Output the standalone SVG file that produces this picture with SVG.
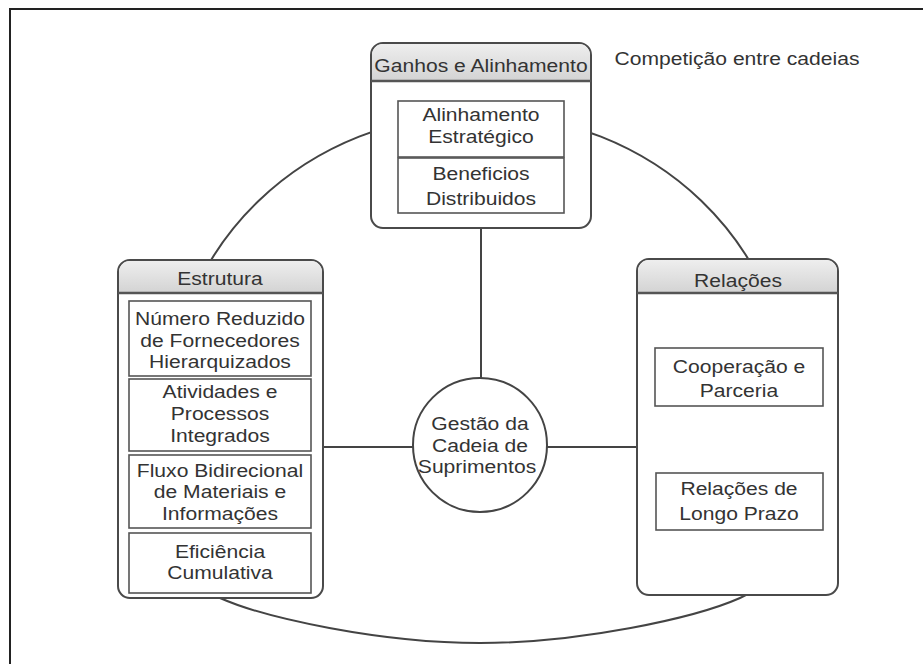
<svg xmlns="http://www.w3.org/2000/svg" width="923" height="664" viewBox="0 0 923 664">
  <defs>
    <linearGradient id="hdr" x1="0" y1="0" x2="0" y2="1">
      <stop offset="0" stop-color="#eeeeee"/>
      <stop offset="1" stop-color="#d3d3d3"/>
    </linearGradient>
    <style>
      .frame { fill: none; stroke: #222; stroke-width: 2; }
      .loop { fill: none; stroke: #444; stroke-width: 2; }
      .panel { fill: #fff; stroke: #4a4a4a; stroke-width: 2; }
      .head { fill: url(#hdr); stroke: none; }
      .divider { stroke: #555; stroke-width: 2.5; }
      .item { fill: #fff; stroke: #555; stroke-width: 1.6; }
      .link { stroke: #444; stroke-width: 2; fill: none; }
      .hub { fill: #fff; stroke: #444; stroke-width: 2; }
      text { font-family: "Liberation Sans", Arial, sans-serif; font-size: 18.5px; fill: #333; text-anchor: middle; }
    </style>
  </defs>

  <rect width="923" height="664" fill="#fff"/>
  <!-- page frame (top and left edges) -->
  <path class="frame" d="M10 664 V9 H923"/>

  <!-- loop running round all three panels -->
  <path class="loop" d="M480 114 C310 114 165 240 165 430 C165 530 175 578 220 598 C265 618 380 643 480 643 C580 643 695 618 740 598 C785 578 795 530 795 430 C795 240 650 114 480 114 Z"/>

  <g id="connectors">
    <line class="link" x1="481" y1="228" x2="481" y2="378"/>
    <line class="link" x1="323" y1="447" x2="413" y2="447"/>
    <line class="link" x1="547" y1="447" x2="637" y2="447"/>
  </g>

  <g id="ganhos">
    <rect class="panel" x="371" y="43" width="220" height="185" rx="12"/>
    <path class="head" d="M372 81 V55 A11 11 0 0 1 383 44 H579 A11 11 0 0 1 590 55 V81 Z"/>
    <line class="divider" x1="371" y1="81" x2="591" y2="81"/>
    <text transform="translate(481 72) scale(1.14 1)">Ganhos e Alinhamento</text>
    <rect class="item" x="398" y="101" width="166" height="56"/>
    <text transform="translate(481 121) scale(1.14 1)">Alinhamento</text>
    <text transform="translate(481 143) scale(1.14 1)">Estratégico</text>
    <rect class="item" x="398" y="158" width="166" height="55"/>
    <text transform="translate(481 180) scale(1.14 1)">Beneficios</text>
    <text transform="translate(481 205) scale(1.14 1)">Distribuidos</text>
  </g>

  <g id="estrutura">
    <rect class="panel" x="118" y="260" width="205" height="338" rx="12"/>
    <path class="head" d="M119 293 V272 A11 11 0 0 1 130 261 H311 A11 11 0 0 1 322 272 V293 Z"/>
    <line class="divider" x1="118" y1="293" x2="323" y2="293"/>
    <text transform="translate(220 285) scale(1.14 1)">Estrutura</text>
    <rect class="item" x="129" y="301" width="182" height="75"/>
    <text transform="translate(220 325) scale(1.14 1)">Número Reduzido</text>
    <text transform="translate(220 347) scale(1.14 1)">de Fornecedores</text>
    <text transform="translate(220 368) scale(1.14 1)">Hierarquizados</text>
    <rect class="item" x="129" y="379" width="182" height="72"/>
    <text transform="translate(220 398) scale(1.14 1)">Atividades e</text>
    <text transform="translate(220 420) scale(1.14 1)">Processos</text>
    <text transform="translate(220 442) scale(1.14 1)">Integrados</text>
    <rect class="item" x="129" y="455" width="182" height="73"/>
    <text transform="translate(220 477) scale(1.14 1)">Fluxo Bidirecional</text>
    <text transform="translate(220 498) scale(1.14 1)">de Materiais e</text>
    <text transform="translate(220 520) scale(1.14 1)">Informações</text>
    <rect class="item" x="129" y="533" width="182" height="60"/>
    <text transform="translate(220 558) scale(1.14 1)">Eficiência</text>
    <text transform="translate(220 579) scale(1.14 1)">Cumulativa</text>
  </g>

  <g id="relacoes">
    <rect class="panel" x="637" y="259" width="201" height="336" rx="12"/>
    <path class="head" d="M638 293 V271 A11 11 0 0 1 649 260 H826 A11 11 0 0 1 837 271 V293 Z"/>
    <line class="divider" x1="637" y1="293" x2="838" y2="293"/>
    <text transform="translate(738 287) scale(1.14 1)">Relações</text>
    <rect class="item" x="655" y="348" width="168" height="58"/>
    <text transform="translate(739 373) scale(1.14 1)">Cooperação e</text>
    <text transform="translate(739 397) scale(1.14 1)">Parceria</text>
    <rect class="item" x="656" y="473" width="167" height="57"/>
    <text transform="translate(739 495) scale(1.14 1)">Relações de</text>
    <text transform="translate(739 520) scale(1.14 1)">Longo Prazo</text>
  </g>

  <g id="gestao">
    <circle class="hub" cx="480" cy="445" r="67"/>
    <text transform="translate(480 430) scale(1.14 1)">Gestão da</text>
    <text transform="translate(480 452) scale(1.14 1)">Cadeia de</text>
    <text transform="translate(477 473) scale(1.14 1)">Suprimentos</text>
  </g>

  <g id="competicao">
    <text transform="translate(737 65) scale(1.14 1)">Competição entre cadeias</text>
  </g>
</svg>
